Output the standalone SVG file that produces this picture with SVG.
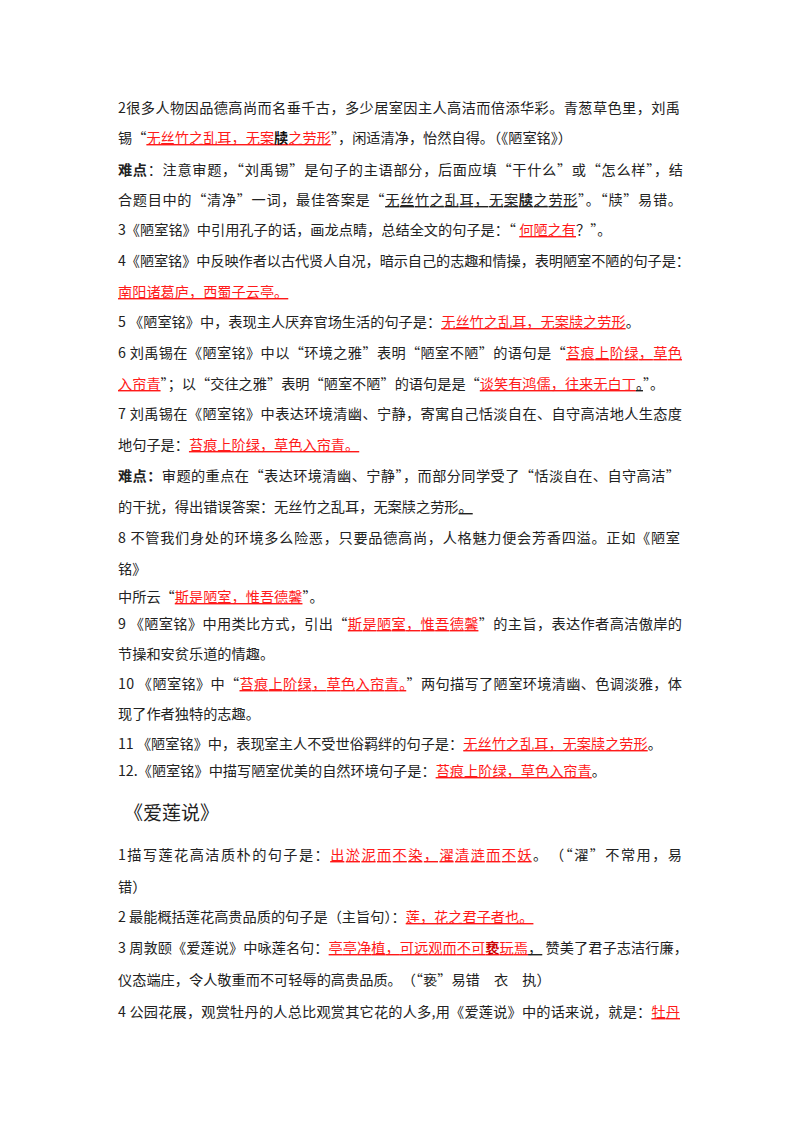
<svg xmlns="http://www.w3.org/2000/svg" width="800" height="1132" viewBox="0 0 800 1132">
<style>
text{font-family:"Noto Sans CJK SC","Liberation Serif",serif;font-size:14.2px;fill:#222}
.r{fill:#ff1a1a;text-decoration:underline}
.k{text-decoration:underline}
.b{font-weight:bold}
.h{font-size:19px}
</style>
<rect width="800" height="1132" fill="#fff"/>
<text x="118" y="113" textLength="562" lengthAdjust="spacing">2很多人物因品德高尚而名垂千古，多少居室因主人高洁而倍添华彩。青葱草色里，刘禹</text>
<text x="118" y="143">锡“<tspan class="r">无丝竹之乱耳，无案<tspan class="b" fill="#111">牍</tspan>之劳形</tspan>”，闲适清净，怡然自得。（《陋室铭》）</text>
<text x="118" y="175" textLength="565" lengthAdjust="spacing"><tspan class="b">难点</tspan>：注意审题，“刘禹锡”是句子的主语部分，后面应填“干什么”或“怎么样”，结</text>
<text x="118" y="205" textLength="564" lengthAdjust="spacing">合题目中的“清净”一词，最佳答案是“<tspan class="k">无丝竹之乱耳，无案<tspan class="b">牍</tspan>之劳形</tspan>”。“牍”易错。</text>
<text x="118" y="235">3《陋室铭》中引用孔子的话，画龙点睛，总结全文的句子是：“ <tspan class="r">何陋之有</tspan>？”。</text>
<text x="118" y="266" textLength="572" lengthAdjust="spacing">4《陋室铭》中反映作者以古代贤人自况，暗示自己的志趣和情操，表明陋室不陋的句子是：</text>
<text x="118" y="297"><tspan class="r">南阳诸葛庐，西蜀子云亭。</tspan></text>
<text x="118" y="327">5 《陋室铭》中，表现主人厌弃官场生活的句子是：<tspan class="r">无丝竹之乱耳，无案牍之劳形</tspan>。</text>
<text x="118" y="358" textLength="564" lengthAdjust="spacing">6 刘禹锡在《陋室铭》中以“环境之雅”表明“陋室不陋”的语句是“<tspan class="r">苔痕上阶绿，草色</tspan></text>
<text x="118" y="389"><tspan class="r">入帘青</tspan>”；以“交往之雅”表明“陋室不陋”的语句是是“<tspan class="r">谈笑有鸿儒，往来无白丁</tspan><tspan class="k">。</tspan>”。</text>
<text x="118" y="419" textLength="564" lengthAdjust="spacing">7 刘禹锡在《陋室铭》中表达环境清幽、宁静，寄寓自己恬淡自在、自守高洁地人生态度</text>
<text x="118" y="450">地句子是：<tspan class="r">苔痕上阶绿，草色入帘青。</tspan></text>
<text x="118" y="481" textLength="562" lengthAdjust="spacing"><tspan class="b">难点：</tspan>审题的重点在“表达环境清幽、宁静”，而部分同学受了“恬淡自在、自守高洁”</text>
<text x="118" y="512">的干扰，得出错误答案：无丝竹之乱耳，无案牍之劳形<tspan class="k">。</tspan></text>
<text x="118" y="543" textLength="562" lengthAdjust="spacing">8 不管我们身处的环境多么险恶，只要品德高尚，人格魅力便会芳香四溢。正如《陋室</text>
<text x="118" y="574">铭》</text>
<text x="118" y="602">中所云“<tspan class="r">斯是陋室，惟吾德馨</tspan>”。</text>
<text x="118" y="629" textLength="564" lengthAdjust="spacing">9 《陋室铭》中用类比方式，引出“<tspan class="r">斯是陋室，惟吾德馨</tspan>”的主旨，表达作者高洁傲岸的</text>
<text x="118" y="659">节操和安贫乐道的情趣。</text>
<text x="118" y="689" textLength="564" lengthAdjust="spacing">10 《陋室铭》中“<tspan class="r">苔痕上阶绿，草色入帘青。</tspan>”两句描写了陋室环境清幽、色调淡雅，体</text>
<text x="118" y="719">现了作者独特的志趣。</text>
<text x="118" y="749">11 《陋室铭》中，表现室主人不受世俗羁绊的句子是：<tspan class="r">无丝竹之乱耳，无案牍之劳形</tspan>。</text>
<text x="118" y="776">12.《陋室铭》中描写陋室优美的自然环境句子是：<tspan class="r">苔痕上阶绿，草色入帘青</tspan>。</text>
<text x="124" y="820" class="h">《爱莲说》</text>
<text x="118" y="860" textLength="564" lengthAdjust="spacing">1描写莲花高洁质朴的句子是：<tspan class="r">出淤泥而不染，濯清涟而不妖</tspan>。　（“濯”不常用，易</text>
<text x="118" y="892">错）</text>
<text x="118" y="922">2 最能概括莲花高贵品质的句子是（主旨句）：<tspan class="r">莲，花之君子者也。</tspan><tspan class="k">  </tspan></text>
<text x="118" y="953" textLength="570" lengthAdjust="spacing">3 周敦颐《爱莲说》中咏莲名句：<tspan class="r">亭亭净植，可远观而不可<tspan class="b" fill="#c00">亵</tspan>玩焉</tspan><tspan class="k">，</tspan> 赞美了君子志洁行廉，</text>
<text x="118" y="985">仪态端庄，令人敬重而不可轻辱的高贵品质。　（“亵”易错　衣　执）</text>
<text x="118" y="1017" textLength="562" lengthAdjust="spacing">4 公园花展，观赏牡丹的人总比观赏其它花的人多,用《爱莲说》中的话来说，就是：<tspan class="r">牡丹</tspan></text>
</svg>
